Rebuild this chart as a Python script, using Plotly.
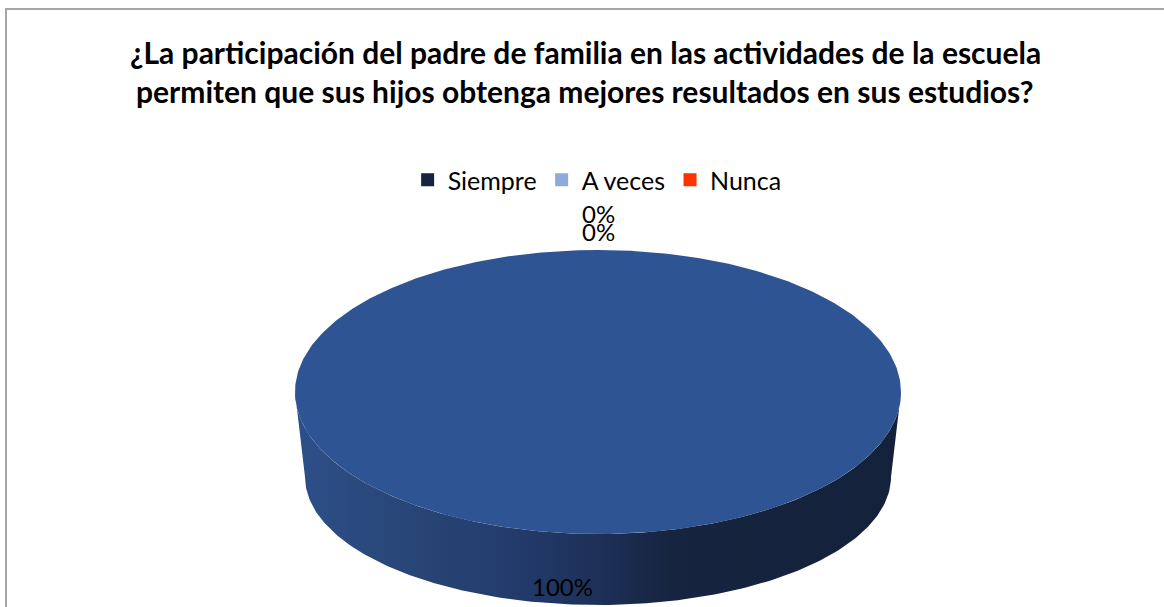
import numpy as np
import plotly.graph_objects as go

# ---- data ----
title_lines = ["¿La participación del padre de familia en las actividades de la escuela",
               "permiten que sus hijos obtenga mejores resultados en sus estudios?"]
categories = ["Siempre", "A veces", "Nunca"]
values = [100, 0, 0]
top_colors = ["#2E5493", "#8EAADB", "#FF3300"]
legend_colors = ["#16243F", "#8EAADB", "#FF3300"]

# ---- geometry of the 3D pie (pixel space) ----
W, H = 1164, 607
cx = 598
top = dict(cy=392, rx=303, ry=142)
bot = dict(cy=477, rx=293, ry=128)


def ell(e, th):
    th = np.radians(th)
    return cx + e["rx"] * np.sin(th), e["cy"] - e["ry"] * np.cos(th)


total = sum(values)
fig = go.Figure()

start = 0.0
mids = []
for cat, v, col in zip(categories, values, top_colors):
    span = 360.0 * v / total
    a0, a1 = start, start + span
    mids.append((a0 + a1) / 2)
    start = a1
    if span <= 0:
        continue
    # side face (front visible part: 90..270)
    s0, s1 = max(a0, 90), min(a1, 270)
    if s1 > s0:
        th = np.linspace(s0, s1, 200)
        xt, yt = ell(top, th)
        xb, yb = ell(bot, th[::-1])
        fig.add_trace(go.Scatter(
            x=np.concatenate([xt, xb, xt[:1]]), y=np.concatenate([yt, yb, yt[:1]]),
            fill="toself", mode="lines", line=dict(width=0, color="#13213B"),
            fillgradient=dict(type="horizontal", colorscale=[
                [0, "#2D4F8A"], [0.15, "#294879"], [0.35, "#233C6D"],
                [0.5, "#1D3058"], [0.62, "#16243F"], [1, "#13213B"]]),
            hoverinfo="skip", showlegend=False))
    # top face
    th = np.linspace(a0, a1, 400)
    xt, yt = ell(top, th)
    if span < 360:
        xt = np.concatenate([[cx], xt, [cx]])
        yt = np.concatenate([[top["cy"]], yt, [top["cy"]]])
    fig.add_trace(go.Scatter(x=xt, y=yt, fill="toself", mode="lines",
                             line=dict(width=0, color=col), fillcolor=col,
                             hoverinfo="skip", showlegend=False))

# legend entries
for cat, col in zip(categories, legend_colors):
    fig.add_trace(go.Scatter(x=[None], y=[None], mode="markers", name=cat,
                             marker=dict(symbol="square", size=13, color=col)))

# data labels
font_lbl = dict(family="Lato, Carlito, sans-serif", size=24, color="#000000")
zero_i = 0
for cat, v, m in zip(categories, values, mids):
    txt = f"{round(100 * v / total)}%"
    if v == 0:
        x, y = ell(top, m)
        y = y - 37 + 18 * zero_i
        zero_i += 1
        fig.add_annotation(x=x, y=y, text=txt, showarrow=False, font=font_lbl)
    else:
        x, y = ell(bot, m)
        fig.add_annotation(x=x, y=y - 19, text=txt, showarrow=False,
                           font=font_lbl, xshift=-36)

# title
title_font = dict(family="Lato, Carlito, sans-serif", size=30, color="#000")
fig.add_annotation(x=0.503, xref="paper", y=52, text=f"<b>{title_lines[0]}</b>",
                   showarrow=False, font=title_font)
fig.add_annotation(x=0.503, xref="paper", y=91, text=f"<b>{title_lines[1]}</b>",
                   showarrow=False, font=title_font)

# chart border
fig.add_shape(type="rect", xref="paper", yref="paper", x0=6 / W, x1=1.05, y0=-0.05, y1=1 - 9 / H,
              line=dict(color="#A6A6A6", width=2))

fig.update_layout(
    width=W, height=H, margin=dict(l=0, r=0, t=0, b=0),
    paper_bgcolor="white", plot_bgcolor="white",
    xaxis=dict(range=[0, W], visible=False, fixedrange=True),
    yaxis=dict(range=[H, 0], visible=False, fixedrange=True),
    legend=dict(orientation="h", x=0.513, xanchor="center", y=1 - 180 / H, yanchor="middle",
                font=dict(family="Lato, Carlito, sans-serif", size=25, color="#000"),
                itemwidth=30, bgcolor="rgba(0,0,0,0)"),
    showlegend=True,
)

fig.write_html("out.html", config={"displayModeBar": False},
               post_script="document.body.style.margin='0';")
